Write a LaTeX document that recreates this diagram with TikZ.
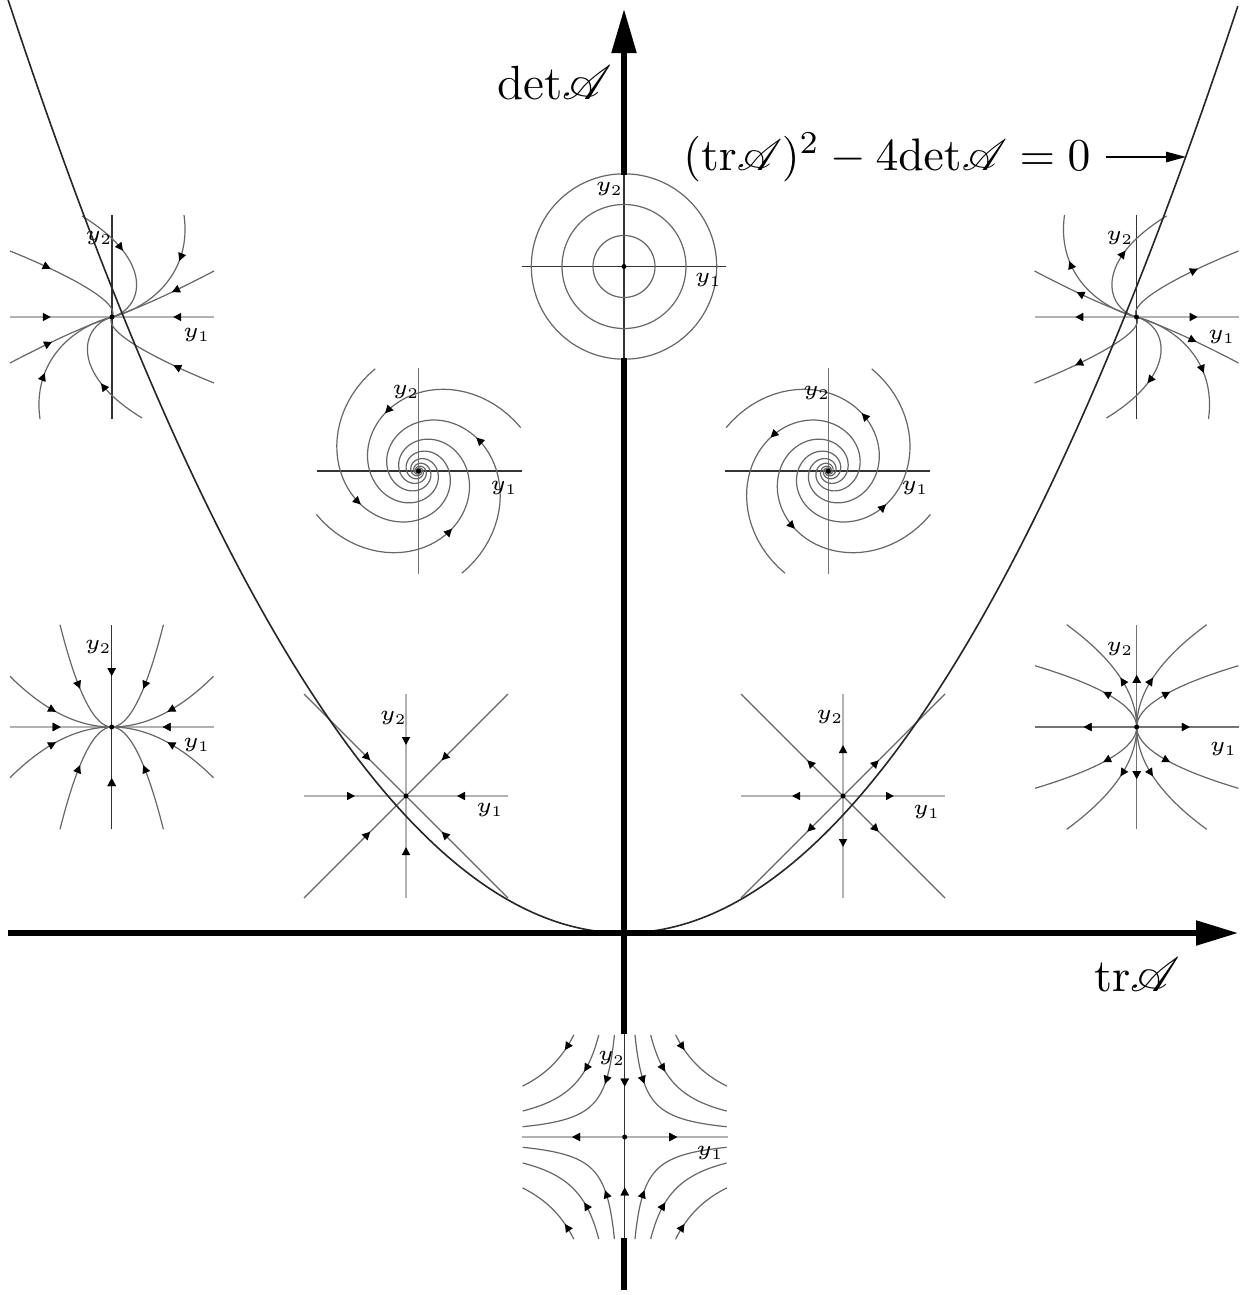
\RequirePackage{fix-cm}
\documentclass[tikz,border=0pt]{standalone}
\usepackage{mathrsfs}
\usetikzlibrary{arrows.meta,decorations.markings}
\tikzset{
  traj/.style={line width=0.3pt, draw=black!60},
  axlight/.style={line width=0.3pt, draw=black!30},
  axmid/.style={line width=0.3pt, draw=black!55},
  axdark/.style={line width=0.3pt, draw=black!80},
  mainax/.style={line width=1.3pt, draw=black},
  parab/.style={line width=0.4pt, draw=black!85},
  fwd/.style={postaction={decorate,decoration={markings,mark=at position #1 with {\arrow{Triangle[length=2pt,width=2pt,color=black]}}}}},
  bwd/.style={postaction={decorate,decoration={markings,mark=at position #1 with {\arrowreversed{Triangle[length=2pt,width=2pt,color=black]}}}}},
  lbl/.style={font=\fontsize{5.3}{6}\selectfont, inner sep=0pt},
  big/.style={font=\fontsize{#1}{14}\selectfont, inner sep=0pt},
}
% degenerate node (trajectories tangent to a tilted line)
\newcommand\pDegen[1]{%
  \draw[axlight] (-102,0) -- (102,0);
  \draw[axdark] (0,-102) -- (0,102);
  \draw[traj,#1=0.42] (102,46) .. controls (60,24) and (25,8) .. (0,0);
  \draw[traj,#1=0.42] (-102,-46) .. controls (-60,-24) and (-25,-8) .. (0,0);
  \draw[traj,#1=0.35] (-102,66) .. controls (-50,45) and (10,15) .. (0,0);
  \draw[traj,#1=0.35] (102,-66) .. controls (50,-45) and (-10,-15) .. (0,0);
  \draw[traj,#1=0.34] (72,102) .. controls (80,45) and (40,10) .. (0,0);
  \draw[traj,#1=0.34] (-72,-102) .. controls (-80,-45) and (-40,-10) .. (0,0);
  \draw[traj,#1=0.4] (-30,101) .. controls (45,55) and (30,8) .. (0,0);
  \draw[traj,#1=0.4] (30,-101) .. controls (-45,-55) and (-30,-8) .. (0,0);
  \path[#1=0.4] (-102,0) -- (0,0);
  \path[#1=0.4] (102,0) -- (0,0);
  \fill (0,0) circle (2.5);
}
% star (proper node)
\newcommand\pStar[1]{%
  \draw[axlight] (-102,0) -- (102,0);
  \draw[axlight] (0,-102) -- (0,102);
  \foreach \aa/\bb in {102/102,-102/102,102/-102,-102/-102}{\draw[traj,#1=0.65] (\aa,\bb) -- (0,0);}
  \foreach \aa/\bb in {102/0,-102/0,0/102,0/-102}{\path[#1=0.5] (\aa,\bb) -- (0,0);}
  \fill (0,0) circle (2.5);
}
% node tangent to horizontal axis
\newcommand\pNodeH[1]{%
  \draw[axlight] (-102,0) -- (102,0);
  \draw[axdark] (0,-102) -- (0,102);
  \foreach \sx in {1,-1}{\foreach \sy in {1,-1}{%
    \begin{scope}[xscale=\sx,yscale=\sy]
      \draw[traj,#1=0.5] (101.7,50.7) .. controls (67.8,16.9) and (33.9,0) .. (0,0);
      \draw[traj,#1=0.565] (51.7,102.3) .. controls (34.5,34.1) and (17.2,0) .. (0,0);
      \path[#1=0.5] (102,0) -- (0,0);
      \path[#1=0.5] (0,102) -- (0,0);
    \end{scope}}}
  \fill (0,0) circle (2.5);
}
% node tangent to vertical axis
\newcommand\pNodeV[1]{%
  \draw[axmid] (-102,0) -- (102,0);
  \draw[axmid] (0,-102) -- (0,102);
  \foreach \sx in {1,-1}{\foreach \sy in {1,-1}{%
    \begin{scope}[xscale=\sx,yscale=\sy]
      \draw[traj,#1=0.59] (101.7,61.3) .. controls (33.9,40.9) and (0,20.4) .. (0,0);
      \draw[traj,#1=0.59] (70,102.3) .. controls (23.3,68.2) and (0,34.1) .. (0,0);
      \path[#1=0.48] (102,0) -- (0,0);
      \path[#1=0.49] (0,102) -- (0,0);
    \end{scope}}}
  \fill (0,0) circle (2.5);
}
% spiral
\newcommand\pSpiral[1]{%
  \draw[axdark] (-102,0) -- (103,0);
  \draw[axmid] (0,-103) -- (0,103);
  \foreach \phz in {23,113,203,293}{%
    \draw[traj,#1=0.4] plot[domain=0:1080,samples=241,variable=\ang]
      ({111*exp(-0.3*\ang/57.29578)*cos(\ang+\phz)},{111*exp(-0.3*\ang/57.29578)*sin(\ang+\phz)});}
  \fill (0,0) circle (2.5);
}
% centre
\newcommand\pCentre{%
  \draw[axdark] (-102,0) -- (102,0);
  \draw[axdark] (0,-102) -- (0,102);
  \foreach \rr in {31,62,92.7}{\draw[traj] (0,0) circle (\rr);}
  \fill (0,0) circle (2.5);
}
% saddle
\newcommand\pSaddle{%
  \draw[axlight] (-103,0) -- (103,0);
  \draw[axdark] (0,-103) -- (0,103);
  \foreach \sx in {1,-1}{\foreach \sy in {1,-1}{%
    \begin{scope}[xscale=\sx,yscale=\sy]
      \draw[traj,fwd=0.335] plot[domain=-1.147:1.147,samples=50,variable=\ang] ({32.4*exp(\ang)},{32.4*exp(-\ang)});
      \draw[traj,fwd=0.345] plot[domain=-0.684:0.684,samples=40,variable=\ang] ({51.48*exp(\ang)},{51.48*exp(-\ang)});
      \draw[traj,fwd=0.24] plot[domain=-0.3495:0.3495,samples=30,variable=\ang] ({72.1*exp(\ang)},{72.1*exp(-\ang)});
      \path[bwd=0.49] (103,0) -- (0,0);
      \path[fwd=0.51] (0,103) -- (0,0);
    \end{scope}}}
  \fill (0,0) circle (2.5);
}
\begin{document}
\begin{tikzpicture}[x=0.25pt,y=-0.25pt]
\fill[white] (0,0) rectangle (1243,1295);
\useasboundingbox (0,0) rectangle (1243,1295);

% phase portraits
\begin{scope}[shift={(112,317)},yscale=-1] \pDegen{fwd} \end{scope}
\begin{scope}[shift={(1136.5,317)},yscale=-1,xscale=-1] \pDegen{bwd} \end{scope}
\begin{scope}[shift={(624,266.5)},yscale=-1] \pCentre \end{scope}
\begin{scope}[shift={(418.5,471)},yscale=-1] \pSpiral{fwd} \end{scope}
\begin{scope}[shift={(828.3,471)},yscale=-1,xscale=-1] \pSpiral{bwd} \end{scope}
\begin{scope}[shift={(111.7,727)},yscale=-1] \pNodeH{fwd} \end{scope}
\begin{scope}[shift={(1136.7,727)},yscale=-1] \pNodeV{bwd} \end{scope}
\begin{scope}[shift={(406,796)},yscale=-1] \pStar{fwd} \end{scope}
\begin{scope}[shift={(843,796)},yscale=-1] \pStar{bwd} \end{scope}
\begin{scope}[shift={(624.7,1137)},yscale=-1] \pSaddle \end{scope}

% portrait labels
\node[lbl] (a2) at (99,238) {$y_2$};
\node[lbl] (a1) at (196.7,335) {$y_1$};
\node[lbl] (b2) at (1120,238) {$y_2$};
\node[lbl] (b1) at (1221.7,336.7) {$y_1$};
\node[lbl] (c2) at (609.3,189.3) {$y_2$};
\node[lbl] (c1) at (708.3,280) {$y_1$};
\node[lbl] (d2) at (406,391.7) {$y_2$};
\node[lbl] (d1) at (504,488.3) {$y_1$};
\node[lbl] (e2) at (816.7,393.3) {$y_2$};
\node[lbl] (e1) at (915,488.3) {$y_1$};
\node[lbl] (f2) at (98.3,647.3) {$y_2$};
\node[lbl] (f1) at (196.7,745) {$y_1$};
\node[lbl] (g2) at (1120,649.3) {$y_2$};
\node[lbl] (g1) at (1223.3,749.3) {$y_1$};
\node[lbl] (h2) at (393.3,718.3) {$y_2$};
\node[lbl] (h1) at (490,810) {$y_1$};
\node[lbl] (i2) at (830,717.3) {$y_2$};
\node[lbl] (i1) at (926.7,811.7) {$y_1$};
\node[lbl] (j2) at (611.7,1058.3) {$y_2$};
\node[lbl] (j1) at (710,1153.3) {$y_1$};

% parabola
\draw[parab] plot[domain=-6.16:6.14,samples=200,variable=\ang] ({624+100*\ang},{933-24.6*\ang*\ang});

% main axes
\draw[mainax,-{Triangle[length=10.5pt,width=6pt]}] (8,933) -- (1238,933);
\draw[mainax] (624,1290) -- (624,1238);
\draw[mainax] (624,1034) -- (624,358);
\draw[mainax,-{Triangle[length=11pt,width=6pt]}] (624,175) -- (624,9);

% main labels
\node[big=12] (det) at (555,83) {$\mathrm{det}\mathscr{A}$};
\node[big=11.6] (tr) at (1137,975) {$\mathrm{tr}\mathscr{A}$};
\node[big=11.4,anchor=base] (eq) at (887,170) {$(\mathrm{tr}\mathscr{A})^2-4\mathrm{det}\mathscr{A}=0$};
\coordinate (eqs) at (1106,157);
\coordinate (eqt) at (1186,157);
\draw[line width=0.4pt,-{Triangle[length=5pt,width=2.6pt]}] (eqs) -- (eqt);
\end{tikzpicture}
\end{document}
